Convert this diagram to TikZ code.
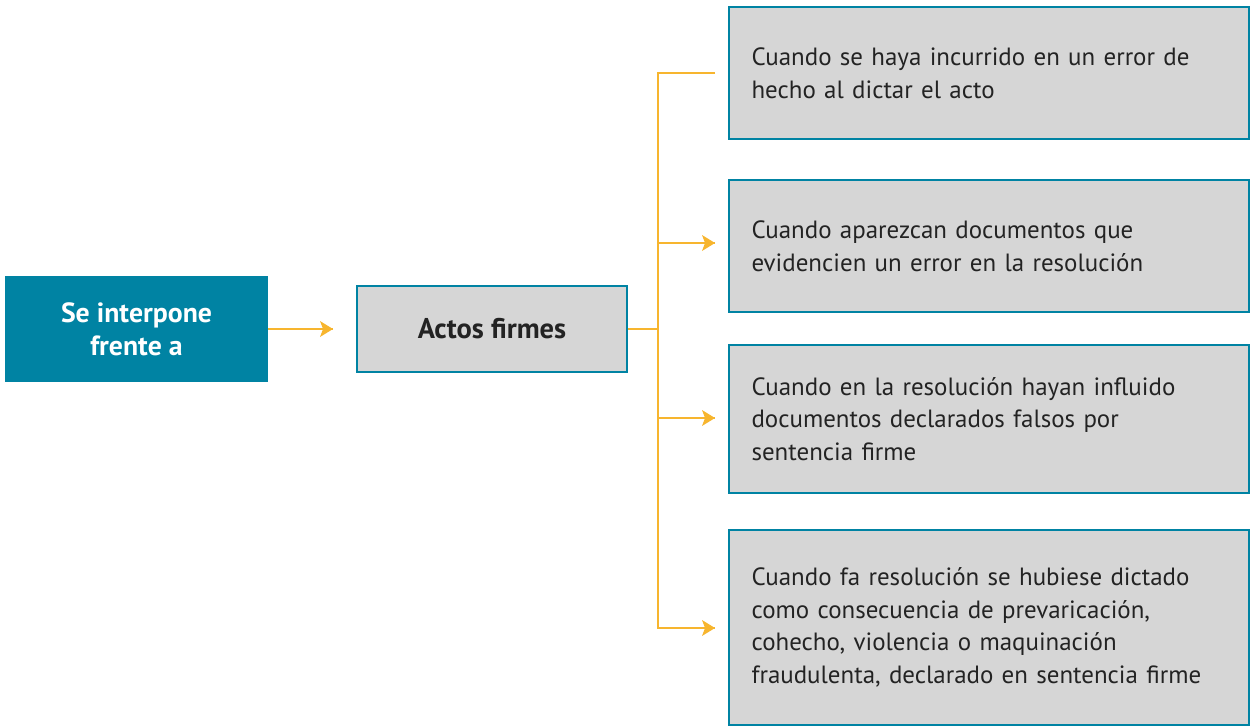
\documentclass[tikz,border=0pt]{standalone}
\usepackage{fontspec}
\setmainfont{PT Sans}
\definecolor{petrol}{RGB}{0,131,163}
\definecolor{boxgray}{RGB}{214,214,214}
\definecolor{gold}{RGB}{247,181,46}
\definecolor{ink}{RGB}{35,35,35}

\begin{document}
\begin{tikzpicture}[x=0.02cm,y=-0.02cm]
                \tikzset{every node/.style={font=\fontsize{14.2}{18.6}\selectfont},
                    casebox/.style={draw=petrol,line width=1.2pt,fill=boxgray,text=ink,
                        minimum width=10.4cm,text width=9.5cm,inner xsep=0.44cm,align=left},
                    link/.style={gold,line width=1.3pt}}
                \useasboundingbox (0,0) rectangle (1250,727);
                % left side
                \node [fill=petrol,text=white,minimum width=5.26cm,minimum height=2.12cm,
                    align=center,font=\fontsize{15.8}{18.6}\selectfont\bfseries] (src) at (136.5,329) {Se interpone\\frente a};
                \node [draw=petrol,line width=1.2pt,fill=boxgray,text=ink,minimum width=5.4cm,minimum height=1.72cm,
                    font=\fontsize{16.2}{18.6}\selectfont\bfseries] (act) at (492,329) {Actos firmes};
                % cases
                \node [casebox,minimum height=2.64cm] (c1) at (989,73) {Cuando se haya incurrido en un error de\\hecho al dictar el acto};
                \node [casebox,minimum height=2.64cm] (c2) at (989,246) {Cuando aparezcan documentos que\\evidencien un error en la resolución};
                \node [casebox,minimum height=2.96cm] (c3) at (989,419) {Cuando en la resolución hayan influido\\documentos declarados falsos por\\sentencia firme};
                \node [casebox,minimum height=3.9cm] (c4) at (989,627.5) {Cuando fa resolución se hubiese dictado\\como consecuencia de prevaricación,\\cohecho, violencia o maquinación\\fraudulenta, declarado en sentencia firme};
                % connectors
                \coordinate (a0) at (333,329);
                \coordinate (j) at (658,329);
                \coordinate (e1) at (715,73);
                \coordinate (e2) at (715,243);
                \coordinate (e3) at (715,418);
                \coordinate (e4) at (715,628);
                \draw [link] (src.east) -- (a0);
                \draw [link] (act.east) -- (j);
                \draw [link] (e1) -| (j |- e4) -- (e4);
                \draw [link] (j |- e2) -- (e2);
                \draw [link] (j |- e3) -- (e3);
                \foreach \t in {a0,e2,e3,e4}
                    \fill [gold] (\t) -- ++(-13,-8) -- ++(3,8) -- ++(-3,8) -- cycle;
            \end{tikzpicture}
\end{document}
